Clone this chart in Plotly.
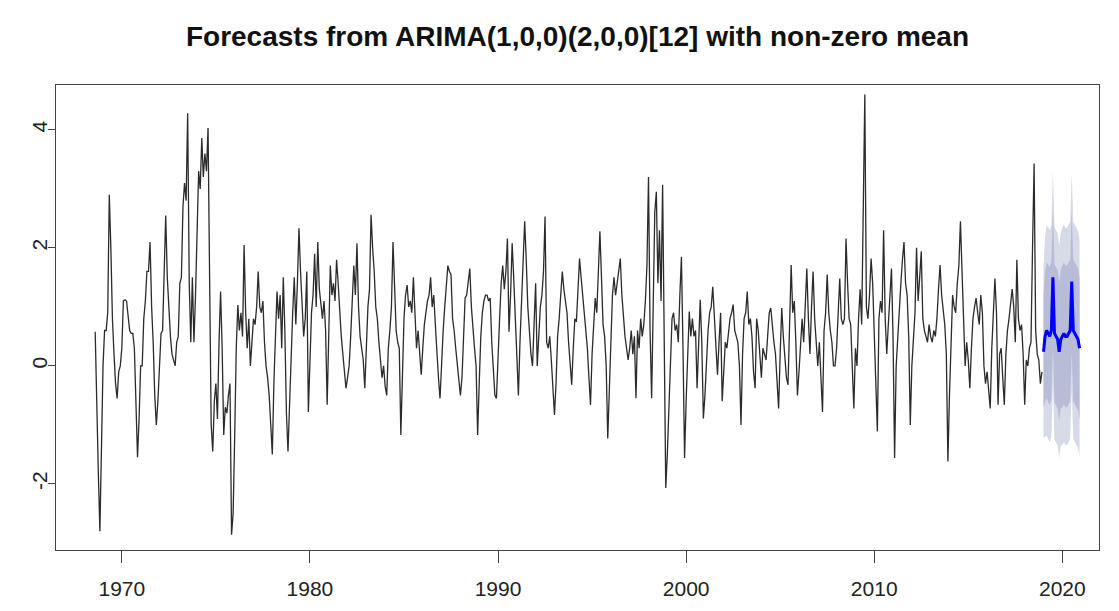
import plotly.graph_objects as go

# Monthly observations, Aug 1968 .. Dec 2018 (one row per calendar year)
start_year, start_month = 1968, 8
obs = [
    0.58, -0.9, -1.8, -2.8, -1.0,
    0.0, 0.6, 0.6, 0.9, 2.9, 2.0, 0.8, 0.2, -0.3, -0.55, -0.1, 0.0,
    0.3, 1.1, 1.12, 1.1, 0.8, 0.6, 0.55, 0.55, 0.3, -0.5, -1.55, -0.9,
    0.0, 0.0, 0.8, 1.1, 1.6, 1.6, 2.1, 1.0, 0.4, -0.5, -1.0, -0.6,
    0.1, 0.55, 0.6, 1.8, 2.55, 1.5, 0.9, 0.5, 0.2, 0.1, 0.0, 0.4,
    0.5, 1.4, 1.5, 2.7, 3.1, 2.8, 4.28, 1.4, 0.4, 1.5, 0.4, 1.2,
    2.4, 3.3, 3.0, 3.86, 3.2, 3.6, 3.3, 4.03, 1.5, -1.0, -1.45, -0.6,
    -0.3, -0.9, 0.4, 1.26, 0.3, -1.17, -0.7, -0.8, -0.5, -0.3, -2.86, -2.5,
    -1.2, 0.3, 1.03, 0.6, 0.9, 0.5, 2.05, 0.9, 0.3, 0.8, 0.0, 0.4,
    0.8, 0.7, 1.0, 1.6, 1.0, 0.9, 1.1, 0.4, 0.0, -0.2, -0.5, -1.0,
    -1.5, -0.3, 0.4, 1.26, 0.8, 1.2, 0.3, 1.5, 0.6, -0.8, -1.45, -0.6,
    0.3, 0.9, 1.5, 0.7, 1.4, 2.33, 1.6, 0.9, 0.5, 0.8, 1.6, -0.78,
    0.2, 0.9, 1.2, 1.9, 1.0, 2.1, 1.3, 1.0, 0.8, 1.1, 0.6, -0.66,
    0.4, 1.7, 1.2, 1.4, 1.1, 1.8, 1.4, 0.9, 0.5, 0.2, -0.1, -0.38,
    -0.2, 0.0, 0.5, 1.0, 1.7, 1.2, 2.08, 1.0, 0.5, 0.3, 0.1, -0.38,
    0.5, 1.0, 1.3, 2.56, 2.0, 1.6, 1.0, 0.8, 0.4, 0.1, -0.2, 0.0,
    -0.35, -0.5, 0.3, 0.6, 1.0, 2.1, 1.2, 0.6, 0.4, 0.3, -1.17, 0.0,
    0.8, 1.2, 1.37, 1.0, 1.1, 0.9, 1.5, 0.9, 0.3, 0.6, 0.2, -0.15,
    0.3, 0.7, 0.9, 1.1, 1.2, 1.5, 1.0, 1.2, 0.7, 0.2, -0.2, -0.55,
    0.1, 0.6, 1.0, 1.4, 1.7, 1.6, 1.55, 0.8, 0.6, 0.3, 0.0, -0.2,
    -0.5, -0.2, 0.6, 1.15, 1.2, 1.4, 1.65, 1.0, 0.6, 0.3, 0.0, -1.17,
    -0.3, 0.5, 0.9, 1.1, 1.2, 1.2, 1.1, 1.15, 0.4, -0.1, -0.5, -0.55,
    0.0, 0.8, 1.4, 1.7, 1.3, 1.6, 2.16, 0.58, 1.2, 2.08, 1.5, 0.8,
    0.1, -0.5, 0.4, 1.1, 1.9, 2.45, 1.8, 1.0, 0.6, 0.2, 0.0, 0.7,
    1.4, 0.0, 0.5, 1.0, 1.2, 1.6, 2.53, 0.4, 0.3, 0.5, 0.1, -0.4,
    -0.83, -0.3, 0.5, 0.8, 1.2, 1.6, 1.3, 1.1, 0.9, 0.4, 0.0, -0.32,
    0.3, 0.8, 0.75, 1.3, 1.82, 1.5, 1.2, 0.9, 0.6, 0.3, -0.2, -0.66,
    0.2, 0.7, 1.15, 0.9, 1.5, 2.28, 1.5, 0.7, 0.5, 0.0, -1.23, -0.4,
    0.3, 1.2, 1.5, 1.2, 1.4, 1.6, 1.82, 1.2, 0.8, 0.5, 0.3, 0.1,
    0.3, 0.6, 0.2, 0.5, -0.55, 0.6, 0.3, 0.8, 0.5, 0.7, 1.1, 1.7,
    3.2, 0.6, -0.55, 1.3, 2.6, 2.95, 1.4, 2.3, 1.1, 3.07, 0.5, -2.07,
    -1.5, -0.7, 0.3, 0.8, 0.9, 0.6, 0.7, 0.4, 1.2, 1.85, 0.3, -1.56,
    -0.6, 0.3, 0.92, 0.5, 0.8, 0.5, 0.6, -0.38, 0.3, 1.12, 0.4, -0.89,
    -0.5, 0.2, 0.6, 0.9, 1.0, 1.34, 0.8, 0.3, -0.15, 0.4, 0.9, -0.6,
    0.0, 0.4, 0.3, 0.6, 0.8, 0.9, 1.04, 0.6, 0.5, 0.4, 0.0, -1.0,
    0.2, 0.8, 0.9, 1.26, 0.7, 0.8, 0.5, -0.1, -0.38, 0.8, 0.6, 0.2,
    -0.2, 0.3, 0.2, 0.1, 0.5, 0.9, 0.98, 0.6, 0.4, 0.2, -0.3, -0.72,
    0.2, 0.98, 0.5, 0.1, -0.2, -0.32, 0.8, 1.71, 0.9, 1.1, 0.4, -0.5,
    -0.1, 0.3, 0.8, 0.4, 1.1, 1.65, 0.8, 0.2, 1.0, 1.6, 0.8, 0.3,
    0.0, 0.4, -0.3, -0.78, 0.6, 0.9, 1.55, 0.9, 0.6, 0.4, 0.0, 0.0,
    0.3, 1.0, 1.48, 0.8, 0.7, 0.8, 2.16, 1.4, 0.8, 0.7, 0.0, -0.72,
    0.3, 0.0, 0.8, 1.3, 0.7, 2.95, 4.6, 1.0, 0.8, 1.2, 1.82, 1.4,
    0.5, -0.3, -1.11, 0.8, 1.1, 0.9, 2.3, 0.8, 0.2, 0.7, 1.2, 1.65,
    0.5, -1.56, 0.0, 0.5, 1.1, 1.4, 1.8, 2.1, 1.4, 1.2, 0.5, -1.0,
    0.0, 0.5, 0.9, 2.0, 1.1, 1.5, 1.94, 0.8, 0.6, 0.5, 0.4, 0.7,
    0.5, 0.4, 0.6, 0.5, 0.8, 1.3, 1.71, 1.2, 0.9, 0.7, 0.2, -1.62,
    -0.5, 0.2, 1.2, 1.0, 0.9, 1.4, 1.7, 2.45, 1.4, 0.8, 0.0, 0.4,
    0.1, -0.38, 0.3, 0.8, 1.0, 1.15, 0.9, 0.7, 1.2, 0.9, 0.0, -0.3,
    -0.1, -0.5, -0.72, 0.3, 0.8, 1.48, 0.9, -0.66, 0.2, 0.3, -0.2, -0.66,
    0.2, 0.6, 0.8, 1.1, 1.3, 1.0, 0.4, 1.8, 0.8, 0.6, 0.7, 0.2,
    -0.66, 0.1, 0.0, 0.3, 0.4, 2.0, 3.43, 0.6, 0.2, 0.1, -0.3, -0.1,
]

# 24-month forecast, Jan 2019 .. Dec 2020
fc_start = 2019
fc_mean = [0.24, 0.50, 0.60, 0.55, 0.50, 0.60, 1.50, 0.55, 0.50, 0.45, 0.24, 0.45,
           0.50, 0.55, 0.50, 0.50, 0.55, 0.60, 1.43, 0.60, 0.55, 0.50, 0.45, 0.30]
fc_hi80 = [1.19, 1.60, 1.75, 1.72, 1.67, 1.77, 2.67, 1.72, 1.67, 1.62, 1.41, 1.62,
           1.70, 1.75, 1.70, 1.70, 1.75, 1.80, 2.63, 1.80, 1.75, 1.70, 1.65, 1.50]
fc_lo80 = [-0.71, -0.60, -0.55, -0.62, -0.67, -0.57, 0.33, -0.62, -0.67, -0.72, -0.93, -0.72,
           -0.70, -0.65, -0.70, -0.70, -0.65, -0.60, 0.23, -0.60, -0.65, -0.70, -0.75, -0.90]
fc_hi95 = [1.69, 2.20, 2.38, 2.35, 2.30, 2.40, 3.30, 2.35, 2.30, 2.25, 2.04, 2.25,
           2.34, 2.39, 2.34, 2.34, 2.39, 2.44, 3.27, 2.44, 2.39, 2.34, 2.29, 2.14]
fc_lo95 = [-1.21, -1.20, -1.18, -1.25, -1.30, -1.20, -0.30, -1.25, -1.30, -1.35, -1.56, -1.35,
           -1.34, -1.29, -1.34, -1.34, -1.29, -1.24, -0.41, -1.24, -1.29, -1.34, -1.39, -1.54]

x_ticks = [1970, 1980, 1990, 2000, 2010, 2020]
y_ticks = [-2, 0, 2, 4]
title = "Forecasts from ARIMA(1,0,0)(2,0,0)[12] with non-zero mean"

# time index in decimal years, as in a monthly ts object
t_obs = [start_year + (start_month - 1 + i) / 12 for i in range(len(obs))]
t_fc = [fc_start + i / 12 for i in range(len(fc_mean))]

FONT = "Liberation Sans, Arial, sans-serif"

fig = go.Figure()

# 95% and 80% prediction bands
for lo, hi, col in [(fc_lo95, fc_hi95, "#D7DAE7"), (fc_lo80, fc_hi80, "#B8BCD6")]:
    fig.add_trace(go.Scatter(
        x=t_fc + t_fc[::-1], y=hi + lo[::-1],
        fill="toself", fillcolor=col, mode="lines",
        line=dict(width=0, color=col), hoverinfo="skip", showlegend=False))

fig.add_trace(go.Scatter(x=t_obs, y=obs, mode="lines",
                         line=dict(color="#2b2b2b", width=1.3), showlegend=False))
fig.add_trace(go.Scatter(x=t_fc, y=fc_mean, mode="lines",
                         line=dict(color="#0000FF", width=3), showlegend=False))

axis_common = dict(showgrid=False, zeroline=False, showline=True, mirror=True,
                   linecolor="#444444", linewidth=1.2, ticks="outside",
                   tickcolor="#444444", tickwidth=1.2)

fig.update_layout(
    width=1119, height=611,
    margin=dict(l=56, r=20, t=85, b=61),
    paper_bgcolor="white", plot_bgcolor="white",
    font=dict(family=FONT, color="#222222"),
    title=dict(text=title, x=0.5, xref="paper", xanchor="center",
               y=1 - 36 / 611, yref="container", yanchor="middle",
               font=dict(family=FONT, size=28, weight="bold", color="#111111")),
    xaxis=dict(range=[1966.5, 2021.95], tickvals=x_ticks,
               ticktext=[str(v) for v in x_ticks], ticklen=12,
               ticklabelstandoff=8, tickfont=dict(size=21), **axis_common),
    yaxis=dict(range=[-3.12, 4.76], tickvals=y_ticks,
               ticktext=[str(v) for v in y_ticks], tickangle=-90, ticklen=7,
               ticklabelstandoff=-7, tickfont=dict(size=21), **axis_common),
)

fig.write_html("out.html")
